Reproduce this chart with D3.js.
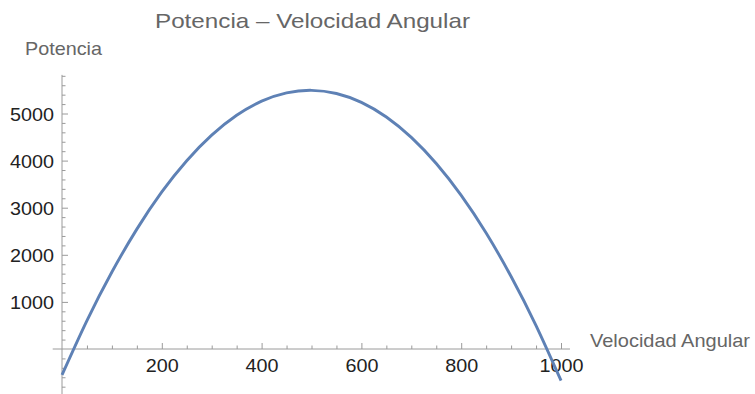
<!DOCTYPE html>
<html>
<head>
<meta charset="utf-8">
<script src="https://cdn.jsdelivr.net/npm/d3@7"></script>
<style>
  html, body { margin: 0; padding: 0; background: #fff; }
  svg { display: block; }
</style>
</head>
<body>
<svg id="chart" width="755" height="394"></svg>
<script>
// ---- data ----
const omega = [0, 50, 100, 150, 200, 250, 300, 350, 400, 450, 500,
               550, 600, 650, 700, 750, 800, 850, 900, 950, 1000];
const power = [-550, 605, 1635, 2545, 3335, 3998, 4540, 4962, 5262, 5438, 5492,
               5425, 5236, 4925, 4492, 3937, 3260, 2462, 1540, 498, -670];
const xTickLabels = [200, 400, 600, 800, 1000];
const xMinorTicks = [50, 100, 150, 250, 300, 350, 450, 500, 550, 650, 700, 750, 850, 900, 950];
const yTickLabels = [1000, 2000, 3000, 4000, 5000];
const yMinorTicks = [-800, -600, -400, -200, 200, 400, 600, 800, 1200, 1400, 1600, 1800,
                     2200, 2400, 2600, 2800, 3200, 3400, 3600, 3800, 4200, 4400, 4600, 4800,
                     5200, 5400, 5600, 5800];
const titleText = "Potencia \u2013 Velocidad Angular";
const xLabel = "Velocidad Angular";
const yLabel = "Potencia";

// ---- layout ----
const svg = d3.select("#chart");
const font = "'Liberation Sans', Arial, sans-serif";
const axisColor = "#9a9a9a";
const labelColor = "#666666";
const tickTextColor = "#222222";
const curveColor = "#5e81b5";

const x = d3.scaleLinear().domain([0, 1000]).range([62, 561]);
const y = d3.scaleLinear().domain([0, 5000]).range([349, 113.5]);
const xExtent = [-18.6, 1018];
const yExtent = [-960, 5820];

// axis lines
svg.append("line")
  .attr("x1", x(xExtent[0])).attr("x2", x(xExtent[1]))
  .attr("y1", y(0)).attr("y2", y(0))
  .attr("stroke", axisColor).attr("stroke-width", 1);
svg.append("line")
  .attr("x1", x(0)).attr("x2", x(0))
  .attr("y1", y(yExtent[0])).attr("y2", y(yExtent[1]))
  .attr("stroke", axisColor).attr("stroke-width", 1);

function styleAxis(g) {
  g.select(".domain").remove();
  g.selectAll(".tick line").attr("stroke", axisColor).attr("stroke-width", 1);
}

// x major ticks + labels
const gx = svg.append("g").attr("transform", `translate(0,${y(0)})`)
  .call(d3.axisBottom(x).tickValues(xTickLabels).tickSizeInner(-6).tickSizeOuter(0).tickPadding(9)
        .tickFormat(d3.format("d")));
styleAxis(gx);
gx.selectAll(".tick text")
  .attr("font-family", font).attr("font-size", 18.5).attr("fill", tickTextColor)
  .attr("dy", null).attr("y", 23)
  .attr("textLength", d => String(d).length * 11)
  .attr("lengthAdjust", "spacingAndGlyphs");

// x minor ticks
const gxm = svg.append("g").attr("transform", `translate(0,${y(0)})`)
  .call(d3.axisBottom(x).tickValues(xMinorTicks).tickSizeInner(-3.5).tickSizeOuter(0).tickFormat(""));
styleAxis(gxm);

// y major ticks + labels
const gy = svg.append("g").attr("transform", `translate(${x(0)},0)`)
  .call(d3.axisLeft(y).tickValues(yTickLabels).tickSizeInner(-6).tickSizeOuter(0).tickPadding(8)
        .tickFormat(d3.format("d")));
styleAxis(gy);
gy.selectAll(".tick text")
  .attr("font-family", font).attr("font-size", 18.5).attr("fill", tickTextColor)
  .attr("dy", "0.36em")
  .attr("textLength", d => String(d).length * 11)
  .attr("lengthAdjust", "spacingAndGlyphs");

// y minor ticks
const gym = svg.append("g").attr("transform", `translate(${x(0)},0)`)
  .call(d3.axisLeft(y).tickValues(yMinorTicks).tickSizeInner(-3.5).tickSizeOuter(0).tickFormat(""));
styleAxis(gym);

// curve
const line = d3.line().x((d, i) => x(omega[i])).y(d => y(d)).curve(d3.curveNatural);
svg.append("path")
  .datum(power)
  .attr("d", line)
  .attr("fill", "none")
  .attr("stroke", curveColor)
  .attr("stroke-width", 2.9)
  .attr("stroke-linecap", "butt");

// title & axis labels
svg.append("text")
  .attr("x", 155).attr("y", 28)
  .attr("font-family", font).attr("font-size", 21).attr("fill", labelColor)
  .attr("textLength", 315).attr("lengthAdjust", "spacingAndGlyphs")
  .text(titleText);

svg.append("text")
  .attr("x", 25).attr("y", 54.5)
  .attr("font-family", font).attr("font-size", 17.8).attr("fill", labelColor)
  .attr("textLength", 77).attr("lengthAdjust", "spacingAndGlyphs")
  .text(yLabel);

svg.append("text")
  .attr("x", 590).attr("y", 347)
  .attr("font-family", font).attr("font-size", 17.8).attr("fill", labelColor)
  .attr("textLength", 160).attr("lengthAdjust", "spacingAndGlyphs")
  .text(xLabel);
</script>
</body>
</html>
